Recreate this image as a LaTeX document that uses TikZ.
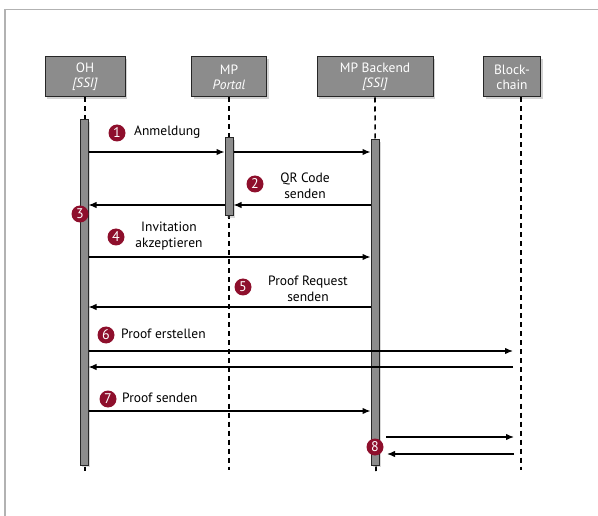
\documentclass[tikz,border=0pt]{standalone}
\usepackage{fontspec}
\setmainfont{PT Sans}
\usetikzlibrary{arrows.meta,shadows}
\definecolor{boxgray}{HTML}{8C8C8C}
\definecolor{badgered}{HTML}{8E0F2C}
\tikzset{
  actor/.style={draw=black!85, line width=1pt, fill=boxgray, text=white,
    minimum height=40pt, align=center, inner sep=2pt, font=\fontsize{13.5}{15}\selectfont,
    drop shadow={shadow xshift=2pt, shadow yshift=-2pt, opacity=0.35}},
  life/.style={line width=1.6pt, dash pattern=on 5pt off 4pt},
  actbar/.style={draw=black!85, line width=1pt, fill=boxgray, minimum width=8pt, inner sep=0pt,
    drop shadow={shadow xshift=2pt, shadow yshift=-2pt, opacity=0.3}},
  msg/.style={line width=1.3pt, -{Latex[length=8pt,width=6.5pt]}},
  badge/.style={circle, fill=badgered, text=white, inner sep=0pt, minimum size=17pt,
    font=\fontsize{14}{14}\selectfont},
  lbl/.style={align=center, inner sep=0pt, font=\fontsize{13.5}{16}\selectfont}
}
\begin{document}
\begin{tikzpicture}[x=1pt,y=-1pt]
\useasboundingbox (0,0) rectangle (598,516);
% outer frame (open to the right and bottom)
\draw[black!30, line width=1.2pt] (5,516) -- (5,9.5) -- (598,9.5);

% participants
\node[actor, minimum width=80pt] (oh) at (85,77) {OH\\\textit{[SSI]}};
\node[actor, minimum width=75pt] (mp) at (229,77) {MP\\\textit{Portal}};
\node[actor, minimum width=116pt] (be) at (375,77) {MP Backend\\\textit{[SSI]}};
\node[actor, minimum width=57pt] (bc) at (512,77) {Block-\\chain};

% lifeline ends
\coordinate (ohE) at (85,471);
\coordinate (mpE) at (229,470);
\coordinate (beE) at (376,471);
\coordinate (bcE) at (521,470);

\draw[life] (oh.south) -- (ohE);
\draw[life] (mp.south) -- (mpE);
\draw[life] (be.south) -- (beE);
\draw[life] (bc.south -| bcE) -- (bcE);

% activation bars
\node[actbar, minimum height=345pt] (ohA) at (84,292.5) {};
\node[actbar, minimum height=78pt] (mpA) at (229,177) {};
\node[actbar, minimum height=325pt] (beA) at (375,302.5) {};

% 1: Anmeldung
\draw[msg] (ohA.east |- 0,152) coordinate (m1a) -- (mpA.west |- m1a);
\draw[msg] (mpA.east |- 0,152) coordinate (m1b) -- (beA.west |- m1b);
\node[badge] (b1) at (117,133) {1};
\node[lbl, anchor=west] (t1) at (134,132) {Anmeldung};

% 2: QR Code senden
\draw[msg] (beA.west |- 0,205) coordinate (m2a) -- (mpA.east |- m2a);
\draw[msg] (mpA.west |- 0,205) coordinate (m2b) -- (ohA.east |- m2b);
\node[badge] (b2) at (255,184) {2};
\node[lbl] (t2) at (305,186) {QR Code\\senden};

% 3
\node[badge] (b3) at (80,214) {3};

% 4: Invitation akzeptieren
\draw[msg] (ohA.east |- 0,257) coordinate (m4) -- (beA.west |- m4);
\node[badge] (b4) at (116,237) {4};
\node[lbl] (t4) at (169,236) {Invitation\\akzeptieren};

% 5: Proof Request senden
\draw[msg] (beA.west |- 0,307) coordinate (m5) -- (ohA.east |- m5);
\node[badge] (b5) at (243,287) {5};
\node[lbl] (t5) at (308,289) {Proof Request\\senden};

% 6: Proof erstellen
\draw[msg] (ohA.east |- 0,351) coordinate (m6a) -- (513,351) coordinate (m6b);
\draw[msg] (m6b |- 0,367) coordinate (m6c) -- (ohA.east |- m6c);
\node[badge] (b6) at (106,335) {6};
\node[lbl, anchor=west] (t6) at (121,334) {Proof erstellen};

% 7: Proof senden
\draw[msg] (ohA.east |- 0,411) coordinate (m7) -- (beA.west |- m7);
\node[badge] (b7) at (108,399) {7};
\node[lbl, anchor=west] (t7) at (122,398) {Proof senden};

% 8: Backend <-> Blockchain
\coordinate (m8a) at (386,437);
\coordinate (m8b) at (514,437);
\coordinate (m8c) at (514,454);
\coordinate (m8d) at (387,454);
\draw[msg] (m8a) -- (m8b);
\draw[msg] (m8c) -- (m8d);
\node[badge] (b8) at (375,447) {8};
\end{tikzpicture}
\end{document}
